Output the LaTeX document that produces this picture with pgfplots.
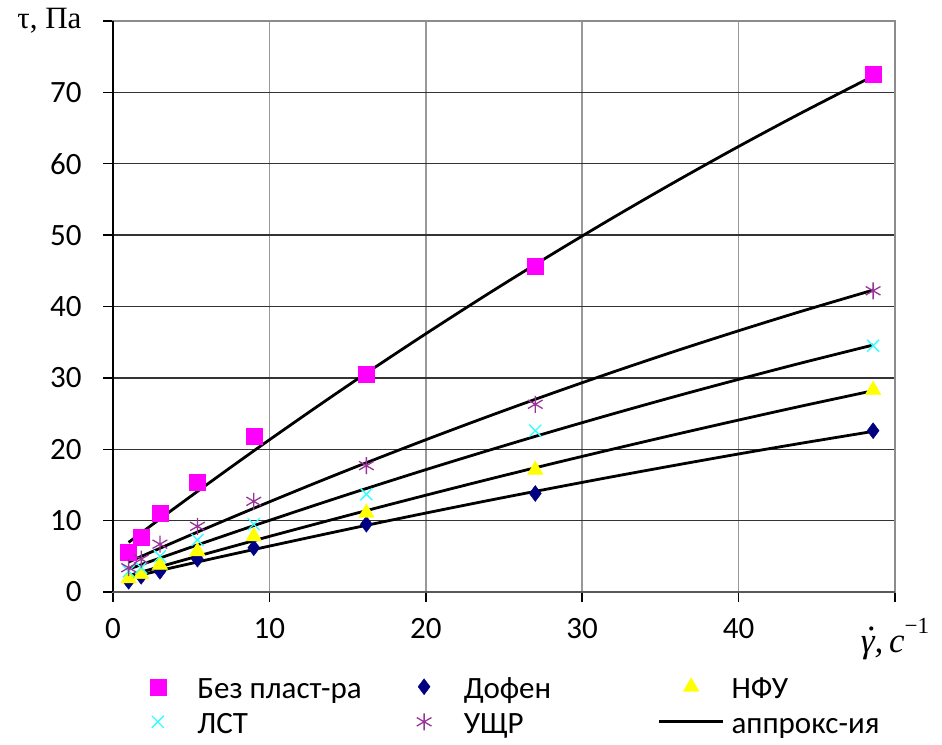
\documentclass[border=0pt]{standalone}
\usepackage{fontspec}
\setmainfont{Carlito}
\newfontfamily\serif{Liberation Serif}
\usepackage{pgfplots}
\pgfplotsset{compat=1.18}

\definecolor{pinkm}{HTML}{FF00FF}
\definecolor{navym}{HTML}{000080}
\definecolor{yellowm}{HTML}{FFFF00}
\definecolor{cyanm}{HTML}{33FFFF}
\definecolor{purplem}{HTML}{993399}

\newcommand{\lgd}[1]{\makebox[201pt][l]{\hspace{7pt}\strut #1}}
\newcommand{\gdot}{{\serif\fontsize{35}{37}\selectfont\itshape\rlap{\hspace{0.2em}\raisebox{0.62em}{.}}γ,\,c}\raisebox{0.6em}{\serif\fontsize{23}{23}\selectfont −1}}

\begin{document}
\begin{tikzpicture}
\begin{axis}[
  scale only axis, width=782pt, height=571pt,
  xmin=0, xmax=50, ymin=0, ymax=80,
  xtick={0,10,...,50}, ytick={0,10,...,80},
  xticklabels={0,10,20,30,40,{\gdot}},
  yticklabels={0,10,20,30,40,50,60,70,{\serif\fontsize{31}{33}\selectfont τ, Па\hspace{-5pt}}},
  tick pos=left, tick align=outside, major tick length=10pt,
  tick style={black, line width=1.5pt},
  ymajorgrids, xmajorgrids,
  y grid style={black!80, line width=1.5pt},
  x grid style={black!40, line width=1.5pt},
  axis line style={black!45, line width=2pt},
  ticklabel style={font=\fontsize{31}{37}\selectfont},
  yticklabel style={xshift=-18pt},
  xticklabel style={yshift=-13pt},
  legend columns=3,
  legend style={at={(axis description cs:0.0153,-0.1419)}, anchor=north west,
    draw=none, fill=none, inner sep=0pt, column sep=0pt, row sep=8pt,
    font=\fontsize{31}{36.5}\selectfont,
    nodes={inner sep=0pt}},
  legend image code/.code={\path (0pt,0pt) (64pt,0pt); \draw[mark repeat=2,mark phase=2,#1] plot coordinates {(0pt,0pt) (32pt,0pt) (64pt,0pt)};},
  after end axis/.code={
    \draw[black, line width=2pt] (rel axis cs:0,0) -- (rel axis cs:0,1);
    \draw[black!65, line width=2pt] (rel axis cs:0,0) -- (rel axis cs:1,0);
    \coordinate (ll) at (rel axis cs:0,0);
    \coordinate (ur) at (rel axis cs:1,1);
  },
]
% measured points
\addplot[only marks, mark=square*, mark size=8pt, draw=pinkm, fill=pinkm] coordinates {
 (1,5.6) (1.8,7.7) (3,11.0) (5.4,15.4) (9,21.8) (16.2,30.5) (27,45.7) (48.6,72.6)};
\addlegendentry{\lgd{Без пласт-ра}}
\addplot[only marks, mark=diamond*, mark size=8pt, draw=navym, fill=navym] coordinates {
 (1,1.5) (1.8,2.2) (3,2.9) (5.4,4.6) (9,6.2) (16.2,9.5) (27,13.8) (48.6,22.6)};
\addlegendentry{\lgd{Дофен}}
\addplot[only marks, mark=triangle*, mark size=9pt, draw=yellowm, fill=yellowm] coordinates {
 (1,1.9) (1.8,2.5) (3,3.8) (5.4,5.7) (9,7.8) (16.2,11.1) (27,17.1) (48.6,28.3)};
\addlegendentry{\lgd{НФУ}}
\addplot[only marks, mark=x, mark size=8.5pt, draw=cyanm, line width=1.3pt] coordinates {
 (1,2.9) (1.8,3.4) (3,5.0) (5.4,7.3) (9,9.5) (16.2,13.7) (27,22.6) (48.6,34.5)};
\addlegendentry{\lgd{ЛСТ}}
\addplot[only marks, mark=asterisk, mark size=8.5pt, draw=purplem, line width=1.3pt] coordinates {
 (1,3.4) (1.8,4.6) (3,6.7) (5.4,9.2) (9,12.7) (16.2,17.7) (27,26.3) (48.6,42.2)};
\addlegendentry{\lgd{УЩР}}
% approximation curves
\addplot[black, line width=2.8pt, smooth, no markers] coordinates {
 (1,6.95) (2,8.60) (3,10.23) (4,11.85) (6,15.05) (8,18.21) (10,21.32) (13,25.90) (16,30.38)
 (20,36.18) (24,41.80) (28,47.23) (32,52.48) (36,57.54) (40,62.42) (44,67.11) (48.6,72.28)};
\addlegendentry{\lgd{аппрокс-ия}}
\addplot[black, line width=2.8pt, smooth, no markers, forget plot] coordinates {
 (1,4.20) (2,5.17) (3,6.12) (4,7.08) (6,8.96) (8,10.81) (10,12.63) (13,15.32) (16,17.94)
 (20,21.33) (24,24.61) (28,27.78) (32,30.84) (36,33.78) (40,36.60) (44,39.32) (48.6,42.30)};
\addplot[black, line width=2.8pt, smooth, no markers, forget plot] coordinates {
 (1,3.20) (2,3.98) (3,4.75) (4,5.52) (6,7.05) (8,8.55) (10,10.03) (13,12.22) (16,14.36)
 (20,17.14) (24,19.83) (28,22.45) (32,24.98) (36,27.43) (40,29.79) (44,32.08) (48.6,34.60)};
\addplot[black, line width=2.8pt, smooth, no markers, forget plot] coordinates {
 (1,2.30) (2,2.92) (3,3.54) (4,4.16) (6,5.38) (8,6.59) (10,7.79) (13,9.55) (16,11.29)
 (20,13.56) (24,15.78) (28,17.94) (32,20.04) (36,22.09) (40,24.09) (44,26.04) (48.6,28.20)};
\addplot[black, line width=2.8pt, smooth, no markers, forget plot] coordinates {
 (1,2.00) (2,2.51) (3,3.01) (4,3.51) (6,4.50) (8,5.47) (10,6.43) (13,7.85) (16,9.25)
 (20,11.06) (24,12.82) (28,14.52) (32,16.18) (36,17.78) (40,19.34) (44,20.84) (48.6,22.50)};
\end{axis}
\pgfresetboundingbox
\path[use as bounding box] ([xshift=-113pt,yshift=-152pt]ll) rectangle ([xshift=47pt,yshift=21pt]ur);
\end{tikzpicture}
\end{document}
